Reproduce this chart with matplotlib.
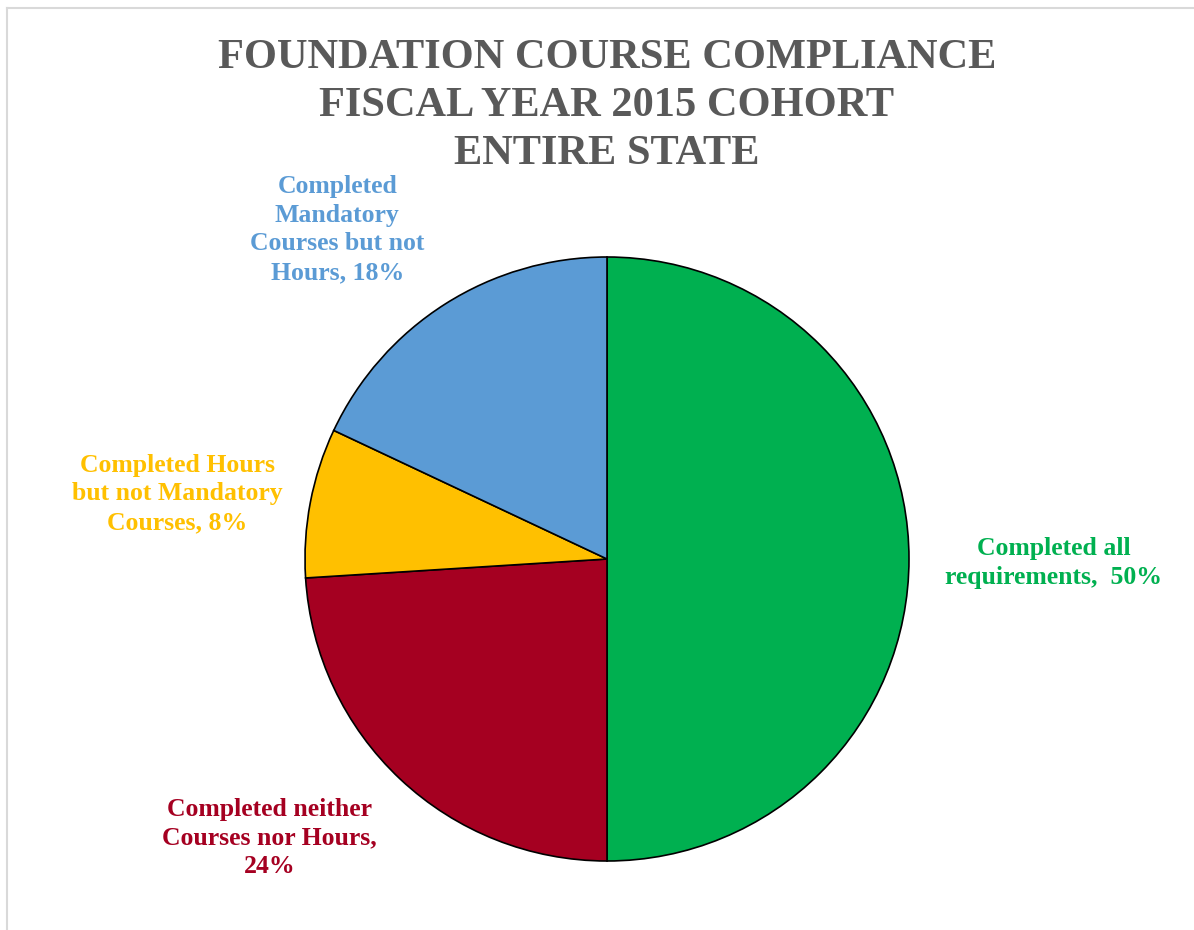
import matplotlib.pyplot as plt
from matplotlib.lines import Line2D
import numpy as np

title = "FOUNDATION COURSE COMPLIANCE\nFISCAL YEAR 2015 COHORT\nENTIRE STATE"

categories = [
    "Completed all\nrequirements,  50%",
    "Completed neither\nCourses nor Hours,\n24%",
    "Completed Hours\nbut not Mandatory\nCourses, 8%",
    "Completed\nMandatory\nCourses but not\nHours, 18%",
]
shares = [50, 24, 8, 18]
colors = ["#00B050", "#A50021", "#FFC000", "#5B9BD5"]

# label anchor (angle in degrees, distance in radii) for each slice
label_pos = [(-0.5, 1.48), (-140.4, 1.45), (171.4, 1.44), (129.3, 1.41)]

plt.rcParams['font.family'] = ['Liberation Serif', 'DejaVu Serif']

fig = plt.figure(figsize=(11.94, 9.3), dpi=100)

# pie area: square box in pixels
W, H = 1194, 930
cx, cy, r = 607, 559, 302
ax = fig.add_axes([(cx - r) / W, (H - cy - r) / H, 2 * r / W, 2 * r / H])

ax.pie(shares, colors=colors, startangle=90, counterclock=False, radius=1,
       wedgeprops=dict(edgecolor="black", linewidth=1.2))
ax.set_xlim(-1, 1)
ax.set_ylim(-1, 1)
ax.set_aspect('auto')
ax.axis('off')

for text, col, (ang, dist) in zip(categories, colors, label_pos):
    a = np.deg2rad(ang)
    ax.text(dist * np.cos(a), dist * np.sin(a), text, color=col, fontsize=18.5,
            fontweight='bold', ha='center', va='center', linespacing=1.32,
            clip_on=False)

fig.text(607 / W, 1 - 106 / H, title, ha='center', va='center', fontsize=30.5,
         fontweight='bold', color='#595959', linespacing=1.33)

# light frame along top and left edges
fig.add_artist(Line2D([7 / W, 1], [1 - 8 / H, 1 - 8 / H], color='#D9D9D9', lw=1.5,
                      transform=fig.transFigure))
fig.add_artist(Line2D([7 / W, 7 / W], [0, 1 - 8 / H], color='#D9D9D9', lw=1.5,
                      transform=fig.transFigure))

fig.savefig('out.png', dpi=100, facecolor='white')
